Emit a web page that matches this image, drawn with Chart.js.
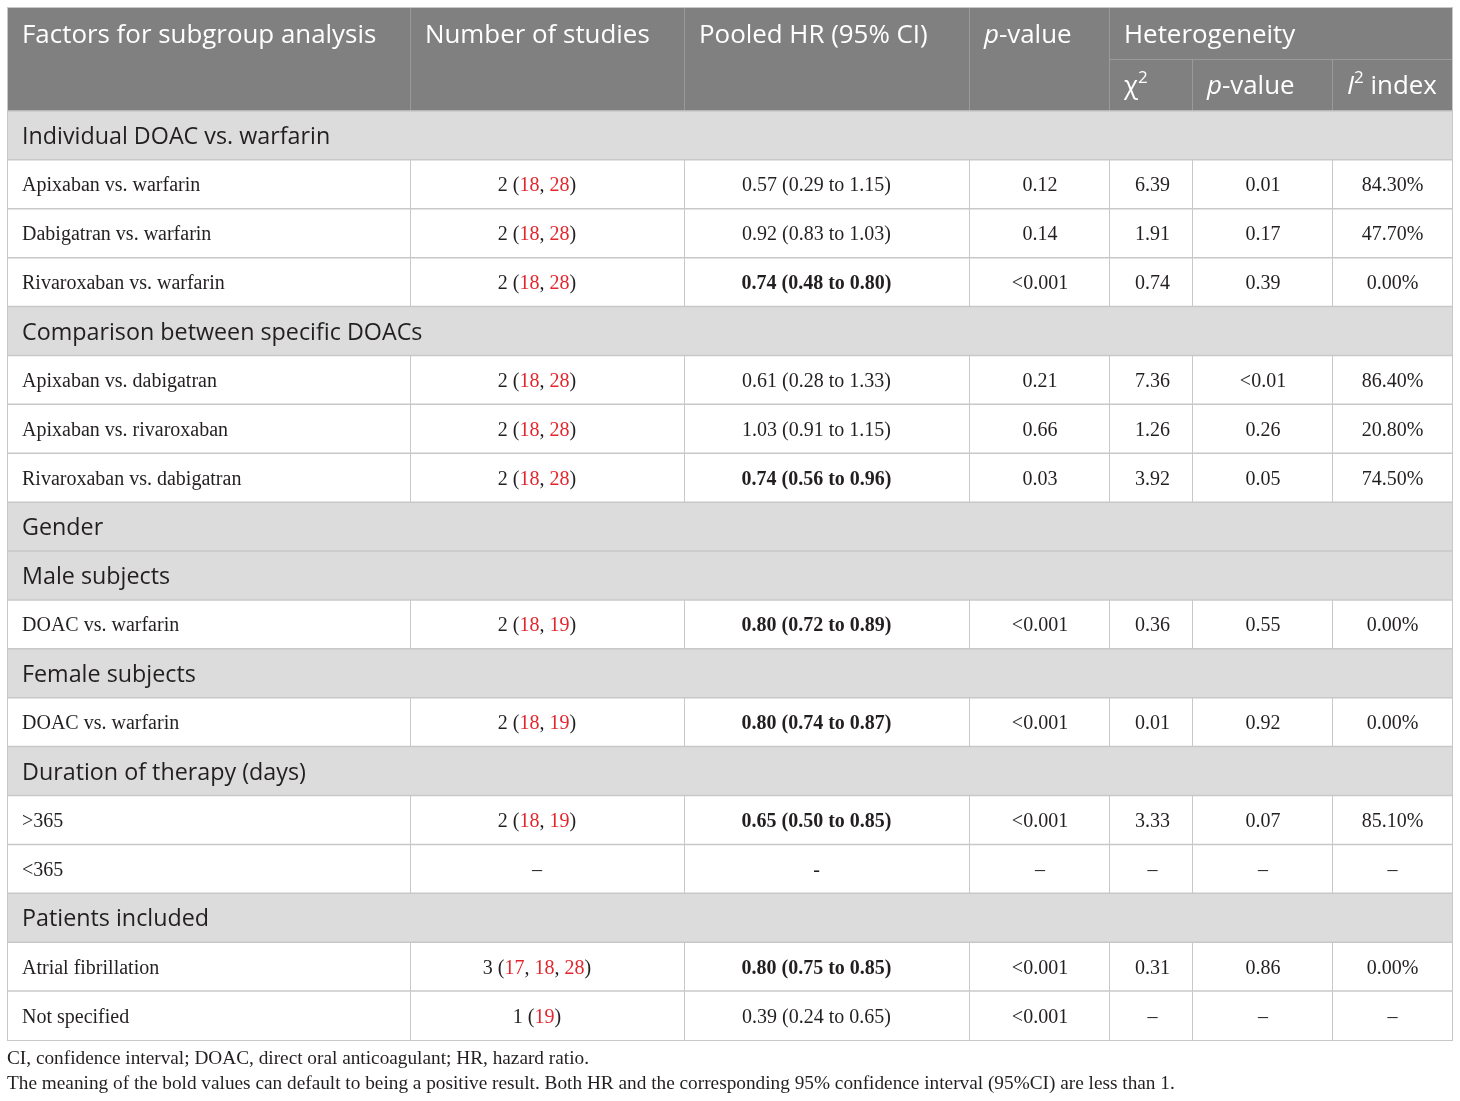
<!DOCTYPE html>
<html><head><meta charset="utf-8">
<script src="https://cdn.jsdelivr.net/npm/chart.js@4.4.1/dist/chart.umd.min.js"></script>
<style>html,body{margin:0;padding:0;background:#fff}#wrap{width:1460px;height:1101px;position:relative}</style>
</head><body><div id="wrap"><canvas id="c"></canvas></div>
<script>
// ---------- DATA ----------
const factors = [
  "Individual DOAC vs. warfarin",
  "Apixaban vs. warfarin",
  "Dabigatran vs. warfarin",
  "Rivaroxaban vs. warfarin",
  "Comparison between specific DOACs",
  "Apixaban vs. dabigatran",
  "Apixaban vs. rivaroxaban",
  "Rivaroxaban vs. dabigatran",
  "Gender",
  "Male subjects",
  "DOAC vs. warfarin",
  "Female subjects",
  "DOAC vs. warfarin",
  "Duration of therapy (days)",
  ">365",
  "<365",
  "Patients included",
  "Atrial fibrillation",
  "Not specified"
];
const isGroup = [1,0,0,0,1,0,0,0,1,1,0,1,0,1,0,0,1,0,0];
const studyCount = ["","2","2","2","","2","2","2","","","2","","2","","2","\u2013","","3","1"];
const studyRefs = [[],[18,28],[18,28],[18,28],[],[18,28],[18,28],[18,28],[],[],[18,19],[],[18,19],[],[18,19],[],[],[17,18,28],[19]];
const pooledHR = ["","0.57 (0.29 to 1.15)","0.92 (0.83 to 1.03)","0.74 (0.48 to 0.80)","","0.61 (0.28 to 1.33)","1.03 (0.91 to 1.15)","0.74 (0.56 to 0.96)","","","0.80 (0.72 to 0.89)","","0.80 (0.74 to 0.87)","","0.65 (0.50 to 0.85)","-","","0.80 (0.75 to 0.85)","0.39 (0.24 to 0.65)"];
const hrBold = [0,0,0,1,0,0,0,1,0,0,1,0,1,0,1,0,0,1,0];
const pValue = ["","0.12","0.14","<0.001","","0.21","0.66","0.03","","","<0.001","","<0.001","","<0.001","\u2013","","<0.001","<0.001"];
const chi2 = ["","6.39","1.91","0.74","","7.36","1.26","3.92","","","0.36","","0.01","","3.33","\u2013","","0.31","\u2013"];
const hetP = ["","0.01","0.17","0.39","","<0.01","0.26","0.05","","","0.55","","0.92","","0.07","\u2013","","0.86","\u2013"];
const i2Index = ["","84.30%","47.70%","0.00%","","86.40%","20.80%","74.50%","","","0.00%","","0.00%","","85.10%","\u2013","","0.00%","\u2013"];
const footnotes = [
  "CI, confidence interval; DOAC, direct oral anticoagulant; HR, hazard ratio.",
  "The meaning of the bold values can default to being a positive result. Both HR and the corresponding 95% confidence interval (95%CI) are less than 1."
];

// ---------- LAYOUT / STYLE ----------
const colEdges = [0, 403, 677, 962, 1102, 1185, 1325, 1446];
const colShift = [0, -10, -10, 1, 2, 1, 0];
const headUnit = 1.053;
const totalUnits = 2 * headUnit + factors.length;
const SANS = '"Open Sans", sans-serif';
const SERIF = '"Liberation Serif", serif';
const C = { head:'#808080', group:'#dcdcdc', line:'#c8c8c8', headLine:'#9a9a9a', text:'#231f20', red:'#e3262d' };

function segFont(s, size, fam){ return (s.i?'italic ':'') + (s.b?'bold ':'') + size + 'px ' + fam; }
function drawRich(ctx, segs, x, y, align, size, fam, color){
  let w = 0;
  const items = segs.map(s => {
    const sz = s.sup ? Math.round(size*0.66) : size;
    ctx.font = segFont(s, sz, fam);
    const m = ctx.measureText(s.t).width;
    w += m; return {s, sz, m};
  });
  let cx = align === 'center' ? x - w/2 : x;
  ctx.textAlign = 'left'; ctx.textBaseline = 'alphabetic';
  items.forEach(it => {
    ctx.font = segFont(it.s, it.sz, fam);
    ctx.fillStyle = it.s.c || color;
    ctx.fillText(it.s.t, cx, y - (it.s.sup ? size*0.42 : 0));
    cx += it.m;
  });
}
function refSegs(count, refs){
  if (!refs.length) return [{t:count}];
  const out = [{t:count + ' ('}];
  refs.forEach((r,k)=>{ out.push({t:String(r), c:C.red}); if(k<refs.length-1) out.push({t:', '}); });
  out.push({t:')'});
  return out;
}

const headerTop = [
  {col:0, segs:[{t:'Factors for subgroup analysis'}]},
  {col:1, segs:[{t:'Number of studies'}]},
  {col:2, segs:[{t:'Pooled HR (95% CI)'}]},
  {col:3, segs:[{t:'p', i:1},{t:'-value'}]},
  {col:4, segs:[{t:'Heterogeneity'}]}
];
const headerSub = [
  {col:4, segs:[{t:'\u03c7'},{t:'2', sup:1}]},
  {col:5, segs:[{t:'p', i:1},{t:'-value'}]},
  {col:6, segs:[{t:'I', i:1},{t:'2', sup:1},{t:' index'}]}
];

const tablePlugin = {
  id:'tablePlugin',
  afterDraw(chart){
    const ctx = chart.ctx, xs = chart.scales.x, ys = chart.scales.y;
    const X = v => xs.getPixelForValue(v), Y = v => ys.getPixelForValue(v);
    const L = X(colEdges[0]), R = X(colEdges[colEdges.length-1]);
    const pad = 15;
    ctx.save();
    // header background
    ctx.fillStyle = C.head;
    ctx.fillRect(L, Y(0), R-L, Y(2*headUnit)-Y(0));
    // header lines
    ctx.strokeStyle = C.headLine; ctx.lineWidth = 1;
    ctx.beginPath();
    for (let k=1;k<colEdges.length-1;k++){
      const x = Math.round(X(colEdges[k]))+0.5;
      const y0 = k>=5 ? Y(headUnit) : Y(0);
      ctx.moveTo(x, y0); ctx.lineTo(x, Y(2*headUnit));
    }
    const hy = Math.round(Y(headUnit))+0.5;
    ctx.moveTo(X(colEdges[4]), hy); ctx.lineTo(R, hy);
    ctx.stroke();
    // header text
    const topMid = (Y(0)+Y(headUnit))/2, subMid = (Y(headUnit)+Y(2*headUnit))/2;
    headerTop.forEach(h => drawRich(ctx, h.segs, X(colEdges[h.col])+pad, topMid+9, 'left', 25.9, SANS, '#ffffff'));
    headerSub.forEach(h => drawRich(ctx, h.segs, X(colEdges[h.col])+pad, subMid+9, 'left', 25.9, SANS, '#ffffff'));
    // body rows
    factors.forEach((f, r) => {
      const t = 2*headUnit + r, b = t + 1;
      const yt = Y(t), yb = Y(b), mid = (yt+yb)/2;
      if (isGroup[r]) {
        ctx.fillStyle = C.group; ctx.fillRect(L, yt, R-L, yb-yt);
        drawRich(ctx, [{t:f}], L+pad, mid+8.5, 'left', 23.3, SANS, C.text);
      } else {
        ctx.fillStyle = '#ffffff'; ctx.fillRect(L, yt, R-L, yb-yt);
        ctx.strokeStyle = C.line; ctx.lineWidth = 1; ctx.beginPath();
        for (let k=1;k<colEdges.length-1;k++){ const x = Math.round(X(colEdges[k]))+0.5; ctx.moveTo(x, yt); ctx.lineTo(x, yb); }
        ctx.stroke();
        const cm = k => (X(colEdges[k])+X(colEdges[k+1]))/2 + colShift[k];
        const by = mid + 7;
        const fs = 20;
        drawRich(ctx, [{t:f}], L+pad, by, 'left', fs, SERIF, C.text);
        drawRich(ctx, refSegs(studyCount[r], studyRefs[r]), cm(1), by, 'center', fs, SERIF, C.text);
        drawRich(ctx, [{t:pooledHR[r], b:hrBold[r]}], cm(2), by, 'center', fs, SERIF, C.text);
        drawRich(ctx, [{t:pValue[r]}], cm(3), by, 'center', fs, SERIF, C.text);
        drawRich(ctx, [{t:chi2[r]}], cm(4), by, 'center', fs, SERIF, C.text);
        drawRich(ctx, [{t:hetP[r]}], cm(5), by, 'center', fs, SERIF, C.text);
        drawRich(ctx, [{t:i2Index[r]}], cm(6), by, 'center', fs, SERIF, C.text);
      }
      // row top line
      ctx.strokeStyle = C.line; ctx.lineWidth = 1.5; ctx.beginPath();
      ctx.moveTo(L, yt); ctx.lineTo(R, yt); ctx.stroke();
    });
    // outer border
    ctx.strokeStyle = C.line; ctx.lineWidth = 1;
    ctx.strokeRect(Math.round(L)+0.5, Math.round(Y(0))-0.5, Math.round(R-L)-1, Math.round(Y(totalUnits)-Y(0))+1);
    // footnotes
    const fy = Y(totalUnits);
    footnotes.forEach((t,k) => drawRich(ctx, [{t}], L, fy + 24 + k*25, 'left', 19.3, SERIF, C.text));
    ctx.restore();
  }
};

new Chart(document.getElementById('c'), {
  type:'scatter',
  data:{ datasets:[{ data:[] }] },
  options:{
    responsive:true, maintainAspectRatio:false, animation:false,
    layout:{ padding:{ left:7, right:7, top:8, bottom:61 } },
    plugins:{ legend:{display:false}, tooltip:{enabled:false} },
    scales:{
      x:{ type:'linear', min:colEdges[0], max:colEdges[colEdges.length-1], display:false },
      y:{ type:'linear', min:0, max:totalUnits, reverse:true, display:false }
    }
  },
  plugins:[tablePlugin]
});
</script>
</body></html>
